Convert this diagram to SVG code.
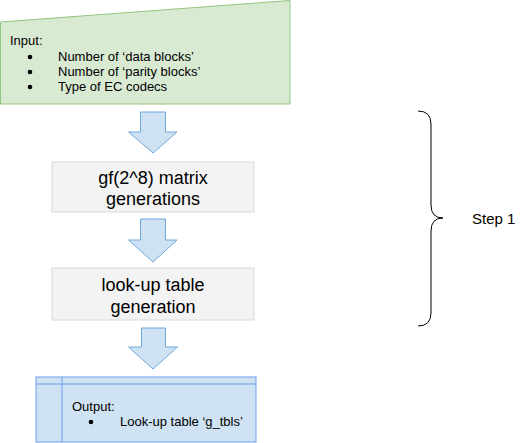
<svg xmlns="http://www.w3.org/2000/svg" width="523" height="443" viewBox="0 0 523 443">
<style>
text{font-family:"Liberation Sans",Arial,sans-serif;fill:#000}
.sm{font-size:13px}
.lg{font-size:18px;text-anchor:middle}
.arrow{fill:#cfe2f3;stroke:#6fa8dc;stroke-width:1}
.box{fill:#f3f3f3;stroke:#d9d9d9;stroke-width:1}
</style>
<rect width="523" height="443" fill="#fff"/>
<g id="input">
<polygon points="0.5,22 290,0.5 290,104 0.5,104" fill="#d9ead3" stroke="#93c47d" stroke-width="1"/>
<text class="sm" x="10" y="45">Input:</text>
<circle cx="30" cy="57" r="2.3" fill="#000"/>
<circle cx="30" cy="72" r="2.3" fill="#000"/>
<circle cx="30" cy="87" r="2.3" fill="#000"/>
<text class="sm" x="58" y="61">Number of ‘data blocks’</text>
<text class="sm" x="58" y="76">Number of ‘parity blocks’</text>
<text class="sm" x="58" y="91">Type of EC codecs</text>
</g>
<g id="connectors">
<polygon class="arrow" points="140.5,112 165.5,112 165.5,132 177,132 153,153 128.5,132 140.5,132"/>
<polygon class="arrow" points="140.5,219 165.5,219 165.5,240 177,240 153,262 128.5,240 140.5,240"/>
<polygon class="arrow" points="141.5,328 165.5,328 165.5,347 177.5,347 153,369 128.5,347 141.5,347"/>
</g>
<g id="matrix">
<rect class="box" x="52" y="162" width="202" height="50"/>
<text class="lg" x="153" y="184">gf(2^8) matrix</text>
<text class="lg" x="153" y="205">generations</text>
</g>
<g id="lookup">
<rect class="box" x="52" y="268" width="202" height="52"/>
<text class="lg" x="153" y="291">look-up table</text>
<text class="lg" x="153" y="313">generation</text>
</g>
<g id="output">
<rect x="36" y="377" width="220" height="65" fill="#cfe2f3" stroke="#6d9eeb" stroke-width="1"/>
<line x1="36" y1="384" x2="256" y2="384" stroke="#6d9eeb"/>
<line x1="62" y1="377" x2="62" y2="442" stroke="#6d9eeb"/>
<text class="sm" x="72" y="411">Output:</text>
<circle cx="91" cy="422" r="2.3" fill="#000"/>
<text class="sm" x="120" y="426">Look-up table ‘g_tbls’</text>
</g>
<g id="step1">
<path d="M418,111 Q431,111 431,124 L431,205 Q431,218 443,218 Q431,218 431,231 L431,313 Q431,326 418,326" fill="none" stroke="#000" stroke-width="1"/>
<text x="472" y="224" style="font-size:15px">Step 1</text>
</g>
</svg>
